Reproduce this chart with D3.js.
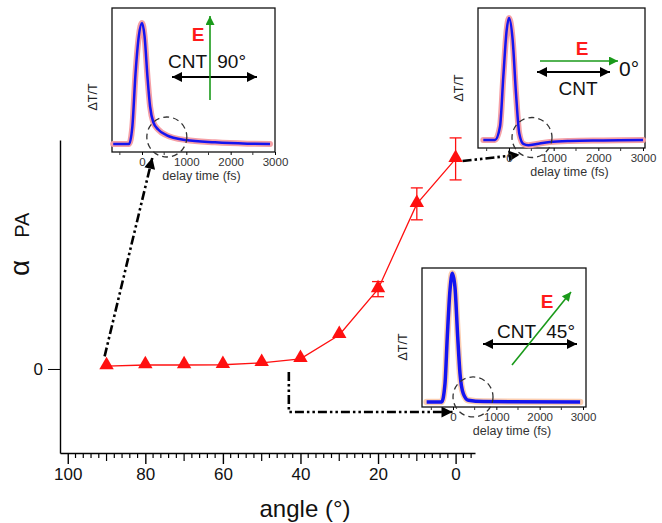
<html>
<head>
<meta charset="UTF-8">
<script src="https://d3js.org/d3.v7.min.js"></script>
<style>
  body { margin: 0; background: #fff; }
  svg { font-family: "Liberation Sans", Arial, sans-serif; }
</style>
</head>
<body>
<svg id="chart" width="662" height="523"></svg>
<script>
// main data: alpha_PA vs polarisation angle
var angles = [90, 80, 70, 60, 50, 40, 30, 20, 10, 0];
var alphaPA = [0.014, 0.019, 0.019, 0.02, 0.029, 0.048, 0.162, 0.38, 0.786, 1.0];
var alphaErr = [0, 0, 0, 0, 0, 0, 0, 0.036, 0.076, 0.1];
var angleTicks = [100, 80, 60, 40, 20, 0];

// inset traces (delay time fs, normalised dT/T)
var t90 = [-650, -293, -219, -147, -73, 0, 58, 124, 182, 255, 365, 548, 987, 1645, 2375, 2887];
var v90 = [0, 0, 0.14, 0.58, 0.89, 1.0, 0.89, 0.55, 0.31, 0.18, 0.12, 0.074, 0.033, 0.014, 0.003, 0];
var t0 = [-575, -313, -201, -127, -52, 0, 82, 157, 231, 320, 432, 619, 917, 1365, 2110, 3000];
var v0 = [0, 0, 0.11, 0.52, 0.9, 1.0, 0.82, 0.38, 0.05, -0.033, -0.044, -0.033, -0.016, -0.008, -0.004, 0];
var t45 = [-608, -261, -185, -131, -69, -15, 46, 108, 162, 238, 354, 700, 2933];
var v45 = [0, 0, 0.14, 0.51, 0.87, 1.0, 0.89, 0.51, 0.22, 0.065, 0.013, 0.003, 0];
var delayTicks = [0, 1000, 2000, 3000];
var delayMinor = [-500, 500, 1500, 2500];

var svg = d3.select('#chart');

var defs = svg.append('defs');
function marker(id, color, w, h) {
  defs.append('marker')
    .attr('id', id)
    .attr('viewBox', '0 0 10 10')
    .attr('refX', 10).attr('refY', 5)
    .attr('markerUnits', 'userSpaceOnUse')
    .attr('markerWidth', w).attr('markerHeight', h)
    .attr('orient', 'auto-start-reverse')
    .append('path')
    .attr('d', 'M0,0 L10,5 L0,10 Z')
    .attr('fill', color);
}
marker('blackHead', '#000', 13, 10);
marker('greenHead', '#1a9a1a', 12, 9);
marker('dashHead', '#000', 15, 11);

var x = d3.scaleLinear().domain([102, -5]).range([60, 475]);
var y = d3.scaleLinear().domain([-0.4, 1.09]).range([453, 140]);

// x axis
var xAxis = svg.append('g')
  .attr('transform', 'translate(0,453)')
  .call(d3.axisBottom(x).tickValues(angleTicks).tickSize(11).tickPadding(4).tickSizeOuter(0));
xAxis.select('.domain').attr('stroke-width', 1.4);
xAxis.selectAll('.tick line').attr('stroke-width', 1.4);
xAxis.selectAll('text').attr('font-size', 17).attr('fill', '#111');
svg.append('g')
  .attr('transform', 'translate(0,453)')
  .selectAll('line')
  .data(d3.range(100, -5, -2).filter(d => d % 20 !== 0))
  .enter().append('line')
  .attr('x1', d => x(d)).attr('x2', d => x(d))
  .attr('y1', 0).attr('y2', d => d % 10 === 0 ? 8 : 5)
  .attr('stroke', '#000').attr('stroke-width', 1.2);

svg.append('text')
  .attr('x', 305).attr('y', 517)
  .attr('text-anchor', 'middle')
  .attr('font-size', 24)
  .attr('fill', '#111')
  .text('angle (°)');

// y axis
var yAxis = svg.append('g')
  .attr('transform', 'translate(60,0)')
  .call(d3.axisLeft(y).tickValues([0]).tickFormat(d3.format('d')).tickSize(12).tickPadding(5).tickSizeOuter(0));
yAxis.select('.domain').attr('stroke-width', 1.4);
yAxis.selectAll('text').attr('font-size', 17).attr('fill', '#111');

var ylab = svg.append('text')
  .attr('transform', 'translate(29,276) rotate(-90)')
  .attr('fill', '#111');
ylab.append('tspan').attr('font-size', 28).text('α');
ylab.append('tspan').attr('font-size', 20).attr('dx', 22).text('PA');

// dash-dot-dot connectors
var dashStyle = '9,3,2.5,3,2.5,3';
function connector(pts) {
  svg.append('path')
    .attr('d', d3.line()(pts))
    .attr('fill', 'none')
    .attr('stroke', '#000')
    .attr('stroke-width', 2.6)
    .attr('stroke-dasharray', dashStyle)
    .attr('marker-end', 'url(#dashHead)');
}
connector([[x(90.5), y(0.06)], [x(78.2), y(1.005)]]);
connector([[x(-1.8), y(0.99)], [x(-16.5), y(1.02)]]);
connector([[x(43), y(-0.015)], [x(43), y(-0.205)], [x(0.8), y(-0.205)]]);

// main series
var pts = angles.map((a, i) => ({a: a, v: alphaPA[i], e: alphaErr[i]}));
svg.append('path')
  .datum(pts)
  .attr('d', d3.line().x(d => x(d.a)).y(d => y(d.v)))
  .attr('fill', 'none')
  .attr('stroke', '#ff1010')
  .attr('stroke-width', 1.3);

var eb = svg.append('g').attr('stroke', '#ff1010').attr('stroke-width', 1.3);
pts.filter(d => d.e > 0).forEach(function (d) {
  eb.append('line').attr('x1', x(d.a)).attr('x2', x(d.a)).attr('y1', y(d.v - d.e)).attr('y2', y(d.v + d.e));
  eb.append('line').attr('x1', x(d.a) - 6).attr('x2', x(d.a) + 6).attr('y1', y(d.v - d.e)).attr('y2', y(d.v - d.e));
  eb.append('line').attr('x1', x(d.a) - 6).attr('x2', x(d.a) + 6).attr('y1', y(d.v + d.e)).attr('y2', y(d.v + d.e));
});

svg.append('g').selectAll('path')
  .data(pts).enter().append('path')
  .attr('transform', d => 'translate(' + x(d.a) + ',' + (y(d.v) - 1) + ')')
  .attr('d', d3.symbol().type(d3.symbolTriangle).size(90))
  .attr('fill', '#ff1010');

// insets
function inset(cfg) {
  var tx = d3.scaleLinear().domain(cfg.tDom).range([cfg.x0, cfg.x1]);
  var vy = d3.scaleLinear().domain(cfg.vDom).range([cfg.y1, cfg.y0]);
  var g = svg.append('g');
  g.append('rect')
    .attr('x', cfg.x0).attr('y', cfg.y0)
    .attr('width', cfg.x1 - cfg.x0).attr('height', cfg.y1 - cfg.y0)
    .attr('fill', '#fff').attr('stroke', '#111').attr('stroke-width', 1.3);

  var ax = g.append('g')
    .attr('transform', 'translate(0,' + cfg.y1 + ')')
    .call(d3.axisBottom(tx).tickValues(delayTicks).tickFormat(d3.format('d')).tickSize(3).tickPadding(3).tickSizeOuter(0));
  ax.select('.domain').remove();
  ax.selectAll('text').attr('font-size', 11.5).attr('fill', '#333');
  g.append('g').selectAll('line').data(delayMinor).enter().append('line')
    .attr('x1', d => tx(d)).attr('x2', d => tx(d))
    .attr('y1', cfg.y1).attr('y2', cfg.y1 + 3)
    .attr('stroke', '#333');
  g.append('text')
    .attr('x', (cfg.x0 + cfg.x1) / 2 + 8).attr('y', cfg.y1 + 28)
    .attr('text-anchor', 'middle').attr('font-size', 12.5).attr('fill', '#333')
    .text('delay time (fs)');
  g.append('text')
    .attr('transform', 'translate(' + (cfg.x0 - 15) + ',' + cfg.labY + ') rotate(-90)')
    .attr('text-anchor', 'middle').attr('font-size', 12.5).attr('fill', '#222')
    .text('ΔT/T');

  var data = cfg.t.map((t, i) => [t, cfg.v[i]]);
  var line = d3.line().x(d => tx(d[0])).y(d => vy(d[1])).curve(d3.curveMonotoneX);
  g.append('path').datum(data).attr('d', line)
    .attr('fill', 'none').attr('stroke', cfg.halo).attr('stroke-width', cfg.haloW)
    .attr('stroke-linejoin', 'round').attr('stroke-linecap', 'round');
  g.append('path').datum(data).attr('d', line)
    .attr('fill', 'none').attr('stroke', '#1414f0').attr('stroke-width', cfg.lineW)
    .attr('stroke-linejoin', 'round');

  g.append('circle')
    .attr('cx', tx(cfg.circ[0])).attr('cy', vy(cfg.circ[1])).attr('r', 20)
    .attr('fill', 'none').attr('stroke', '#333').attr('stroke-width', 1.3)
    .attr('stroke-dasharray', '6,4');

  var a = g.append('g').attr('transform', 'translate(' + cfg.x0 + ',' + cfg.y0 + ')');
  a.append('line')
    .attr('x1', cfg.cnt[0]).attr('x2', cfg.cnt[1]).attr('y1', cfg.cnt[2]).attr('y2', cfg.cnt[2])
    .attr('stroke', '#000').attr('stroke-width', 2)
    .attr('marker-start', 'url(#blackHead)').attr('marker-end', 'url(#blackHead)');
  a.append('line')
    .attr('x1', cfg.e[0]).attr('y1', cfg.e[1]).attr('x2', cfg.e[2]).attr('y2', cfg.e[3])
    .attr('stroke', '#1a9a1a').attr('stroke-width', 1.6)
    .attr('marker-end', 'url(#greenHead)');
  a.append('text')
    .attr('x', cfg.eLab[0]).attr('y', cfg.eLab[1])
    .attr('text-anchor', 'middle').attr('font-size', 19).attr('font-weight', 'bold')
    .attr('fill', '#ff1a1a').text('E');
  cfg.texts.forEach(function (tt) {
    a.append('text')
      .attr('x', tt[0]).attr('y', tt[1])
      .attr('text-anchor', tt[3] || 'start')
      .attr('font-size', tt[4] || 19).attr('fill', '#111')
      .attr('xml:space', 'preserve')
      .text(tt[2]);
  });
}

inset({
  x0: 112, x1: 275, y0: 8, y1: 152, labY: 97,
  tDom: [-677, 3000], vDom: [-0.066, 1.124],
  t: t90, v: v90, halo: '#f5a0a6', haloW: 6, lineW: 2.5,
  circ: [560, 0.058],
  cnt: [60, 145, 69], e: [98, 92, 98, 8], eLab: [86, 33],
  texts: [[56, 60, 'CNT  90°']]
});

inset({
  x0: 478, x1: 645, y0: 8, y1: 148, labY: 88,
  tDom: [-694, 3045], vDom: [-0.066, 1.082],
  t: t0, v: v0, halo: '#f5a0a6', haloW: 6, lineW: 2.5,
  circ: [515, 0.02],
  cnt: [59, 132, 64], e: [62, 53, 140, 53], eLab: [104, 47],
  texts: [[100, 87, 'CNT', 'middle'], [141, 68, '0°', 'start', 21]]
});

inset({
  x0: 422, x1: 586, y0: 268, y1: 407, labY: 347,
  tDom: [-715, 3069], vDom: [-0.039, 1.041],
  t: t45, v: v45, halo: '#fbcdb0', haloW: 6.5, lineW: 3.5,
  circ: [462, 0.039],
  cnt: [61, 155, 76], e: [90, 97, 149, 24], eLab: [125, 40],
  texts: [[75, 70, 'CNT  45°']]
});
</script>
</body>
</html>
